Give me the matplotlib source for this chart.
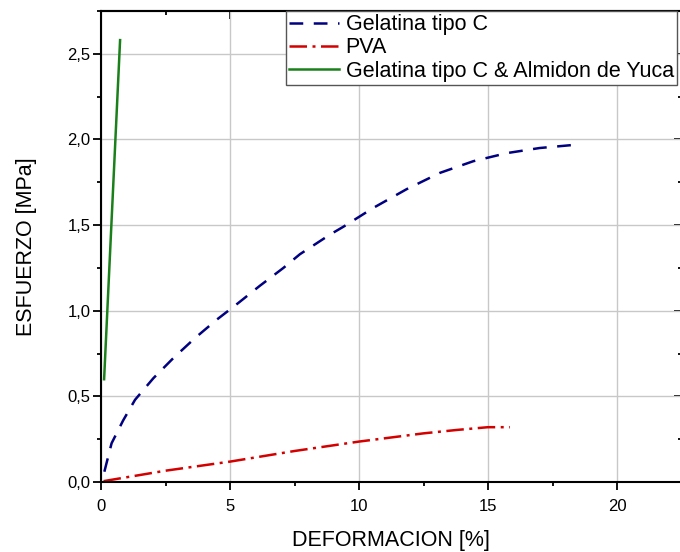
import numpy as np
import matplotlib
matplotlib.use('Agg')
import matplotlib.pyplot as plt
from matplotlib.ticker import MultipleLocator, FuncFormatter

plt.rcParams['font.family'] = ['Liberation Sans', 'DejaVu Sans']

# curves
gel_x = [0.13, 0.41, 0.86, 1.32, 2.03, 2.80, 3.64, 4.48, 5.32, 6.16, 7.07, 7.71,
         8.88, 9.39, 10.55, 11.85, 13.14, 14.43, 15.72, 17.0, 18.24]
gel_y = [0.06, 0.226, 0.36, 0.48, 0.606, 0.723, 0.84, 0.947, 1.045, 1.146, 1.25, 1.33,
         1.445, 1.49, 1.60, 1.71, 1.805, 1.873, 1.92, 1.95, 1.967]

pva_x = [0.1, 2.5, 5.0, 7.5, 10.0, 12.5, 13.8, 15.0, 15.85]
pva_y = [0.005, 0.066, 0.119, 0.181, 0.236, 0.284, 0.304, 0.32, 0.32]

mix_x = [0.12, 0.74]
mix_y = [0.60, 2.58]

labels = ['Gelatina tipo C', 'PVA', 'Gelatina tipo C & Almidon de Yuca']

fig = plt.figure(figsize=(6.8, 5.52), dpi=100)
ax = fig.add_axes([101/680, 70/552, 580.5/680, 471/552])

ax.plot(gel_x, gel_y, color='#000080', lw=1.8, linestyle=(0, (5.5, 4.2)), label=labels[0])
ax.plot(pva_x, pva_y, color='#d40000', lw=1.8, linestyle=(0, (7, 2.2, 1.2, 2.2)), label=labels[1])
ax.plot(mix_x, mix_y, color='#1a801a', lw=1.8, label=labels[2])

ax.set_xlim(0, 22.5)
ax.set_ylim(0, 2.75)

ax.xaxis.set_major_locator(MultipleLocator(5))
ax.xaxis.set_minor_locator(MultipleLocator(2.5))
ax.yaxis.set_major_locator(MultipleLocator(0.5))
ax.yaxis.set_minor_locator(MultipleLocator(0.25))
ax.yaxis.set_major_formatter(FuncFormatter(lambda v, p: f'{v:.1f}'.replace('.', ',')))

ax.grid(True, which='major', color='#c8c8c8', lw=1)
ax.set_axisbelow(True)

for s in ax.spines.values():
    s.set_linewidth(1.5)
ax.tick_params(which='major', direction='out', length=5.5, width=1.3, labelsize=12)
ax.tick_params(which='minor', direction='out', length=3, width=1.3)
ax.tick_params(axis='x', pad=7)
ax.tick_params(axis='y', pad=2)

# mirrored ticks pointing inwards on top and right
top = ax.secondary_xaxis('top')
top.xaxis.set_major_locator(MultipleLocator(5))
top.xaxis.set_minor_locator(MultipleLocator(2.5))
top.tick_params(which='major', direction='in', length=5.5, width=1.3, labeltop=False)
top.tick_params(which='minor', direction='in', length=3, width=1.3)
top.spines['top'].set_linewidth(1.5)

right = ax.secondary_yaxis('right')
right.yaxis.set_major_locator(MultipleLocator(0.5))
right.yaxis.set_minor_locator(MultipleLocator(0.25))
right.tick_params(which='major', direction='in', length=5.5, width=1.3, labelright=False)
right.tick_params(which='minor', direction='in', length=3, width=1.3)
right.spines['right'].set_linewidth(1.5)

ax.set_xlabel('DEFORMACION [%]', fontsize=15.5, labelpad=11)
ax.set_ylabel('ESFUERZO [MPa]', fontsize=15.5, labelpad=22)

leg = ax.legend(loc='upper right', bbox_to_anchor=(0.992, 1.0), fontsize=15.5,
                frameon=True, fancybox=False, borderaxespad=0, borderpad=0.15,
                labelspacing=0.1, handlelength=2.33, handletextpad=0.3)
leg.get_frame().set_edgecolor('#555555')
leg.get_frame().set_linewidth(1)
leg.get_frame().set_alpha(1)

fig.savefig('out.png', dpi=100)
